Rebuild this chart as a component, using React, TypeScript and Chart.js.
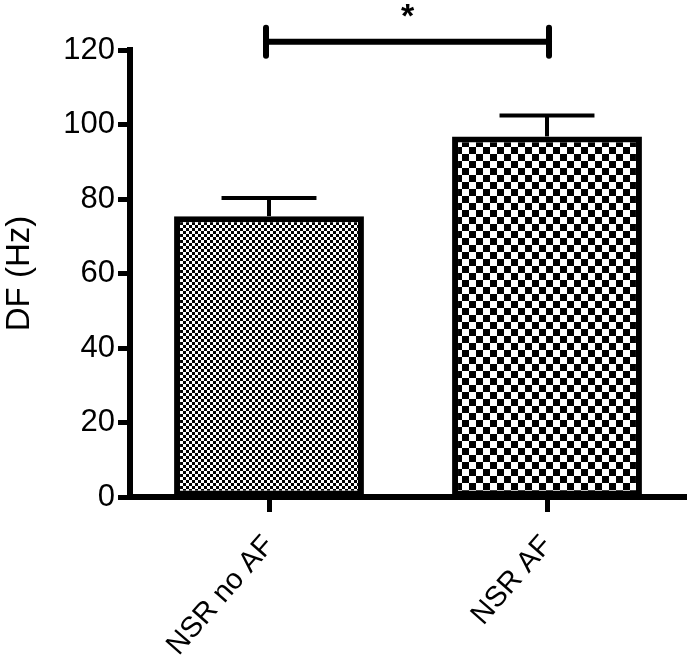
import React, { useEffect, useRef } from "react";
import { Chart, registerables } from "chart.js";

Chart.register(...registerables);

const categories = ["NSR no AF", "NSR AF"];
const means = [75.4, 96.8];
const sems = [4.9, 5.6];
const yMin = 0;
const yMax = 120;
const yStep = 20;
const sigLabel = "*";
const sigPair = [0, 1];
const sigLevel = 122.2;

function makeChecker(cell: number): CanvasPattern | string {
  const c = document.createElement("canvas");
  c.width = cell * 2;
  c.height = cell * 2;
  const g = c.getContext("2d");
  if (!g) return "#888";
  g.fillStyle = "#ffffff";
  g.fillRect(0, 0, cell * 2, cell * 2);
  g.fillStyle = "#000000";
  g.fillRect(0, 0, cell, cell);
  g.fillRect(cell, cell, cell, cell);
  const p = g.createPattern(c, "repeat");
  return p || "#888";
}

const errorBarPlugin = {
  id: "errorBars",
  afterDatasetsDraw(chart: any) {
    const ctx = chart.ctx;
    const y = chart.scales.y;
    const meta = chart.getDatasetMeta(0);
    ctx.save();
    ctx.strokeStyle = "#000";
    ctx.lineWidth = 4;
    ctx.lineCap = "butt";
    meta.data.forEach((el: any, i: number) => {
      const top = y.getPixelForValue(means[i] + sems[i]);
      const base = el.y;
      const half = el.width / 4;
      ctx.beginPath();
      ctx.moveTo(el.x, base);
      ctx.lineTo(el.x, top);
      ctx.stroke();
      ctx.beginPath();
      ctx.moveTo(el.x - half, top);
      ctx.lineTo(el.x + half, top);
      ctx.stroke();
    });
    ctx.restore();
  },
  afterDraw(chart: any) {
    const ctx = chart.ctx;
    const x = chart.scales.x;
    const y = chart.scales.y;
    const x1 = x.getPixelForValue(sigPair[0]) - 3;
    const x2 = x.getPixelForValue(sigPair[1]) + 2;
    const yy = y.getPixelForValue(sigLevel);
    ctx.save();
    ctx.strokeStyle = "#000";
    ctx.lineWidth = 6;
    ctx.lineCap = "round";
    ctx.beginPath();
    ctx.moveTo(x1, yy);
    ctx.lineTo(x2, yy);
    ctx.stroke();
    ctx.beginPath();
    ctx.moveTo(x1, yy - 14);
    ctx.lineTo(x1, yy + 14);
    ctx.moveTo(x2, yy - 14);
    ctx.lineTo(x2, yy + 14);
    ctx.stroke();
    ctx.fillStyle = "#000";
    ctx.font = "bold 34px 'Liberation Sans', Arial, sans-serif";
    ctx.textAlign = "center";
    ctx.textBaseline = "middle";
    ctx.fillText(sigLabel, (x1 + x2) / 2, yy - 24);
    ctx.restore();
  },
};

export default function App() {
  const ref = useRef<HTMLCanvasElement | null>(null);
  useEffect(() => {
    if (!ref.current) return;
    const patterns = [makeChecker(3), makeChecker(7)];
    const chart = new Chart(ref.current, {
      type: "bar",
      data: {
        labels: categories,
        datasets: [
          {
            data: means,
            backgroundColor: patterns as any,
            borderColor: "#000",
            borderWidth: 6,
            borderSkipped: false,
            barPercentage: 0.683,
            categoryPercentage: 1,
          },
        ],
      },
      options: {
        responsive: false,
        animation: false,
        layout: { padding: { top: 50, right: 3, left: 0, bottom: 0 } },
        plugins: {
          legend: { display: false },
          tooltip: { enabled: false },
        },
        scales: {
          x: {
            offset: true,
            grid: {
              display: true,
              drawOnChartArea: false,
              offset: false,
              tickLength: 15,
              tickWidth: 5,
              tickColor: "#000",
            },
            border: { display: true, color: "#000", width: 6 },
            ticks: {
              color: "#000",
              font: { family: "'Liberation Sans', Arial, sans-serif", size: 29 },
              minRotation: 49,
              maxRotation: 49,
              padding: 17,
            },
            afterFit: (s: any) => {
              s.height = 162;
            },
          },
          y: {
            min: yMin,
            max: yMax,
            ticks: {
              stepSize: yStep,
              color: "#000",
              font: { family: "'Liberation Sans', Arial, sans-serif", size: 31 },
              padding: 3,
            },
            grid: {
              display: true,
              drawOnChartArea: false,
              tickLength: 12,
              tickWidth: 5,
              tickColor: "#000",
            },
            border: { display: true, color: "#000", width: 6 },
            title: {
              display: true,
              text: "DF (Hz)",
              color: "#000",
              font: { family: "'Liberation Sans', Arial, sans-serif", size: 33 },
              padding: { top: 0, bottom: 0 },
            },
            afterFit: (s: any) => {
              s.width = 130;
            },
          },
        },
      },
      plugins: [errorBarPlugin],
    });
    return () => chart.destroy();
  }, []);
  return (
    <div style={{ position: "absolute", left: 0, top: 0, width: 689, height: 659, background: "#fff" }}>
      <canvas ref={ref} width={689} height={659} style={{ display: "block" }} />
    </div>
  );
}
